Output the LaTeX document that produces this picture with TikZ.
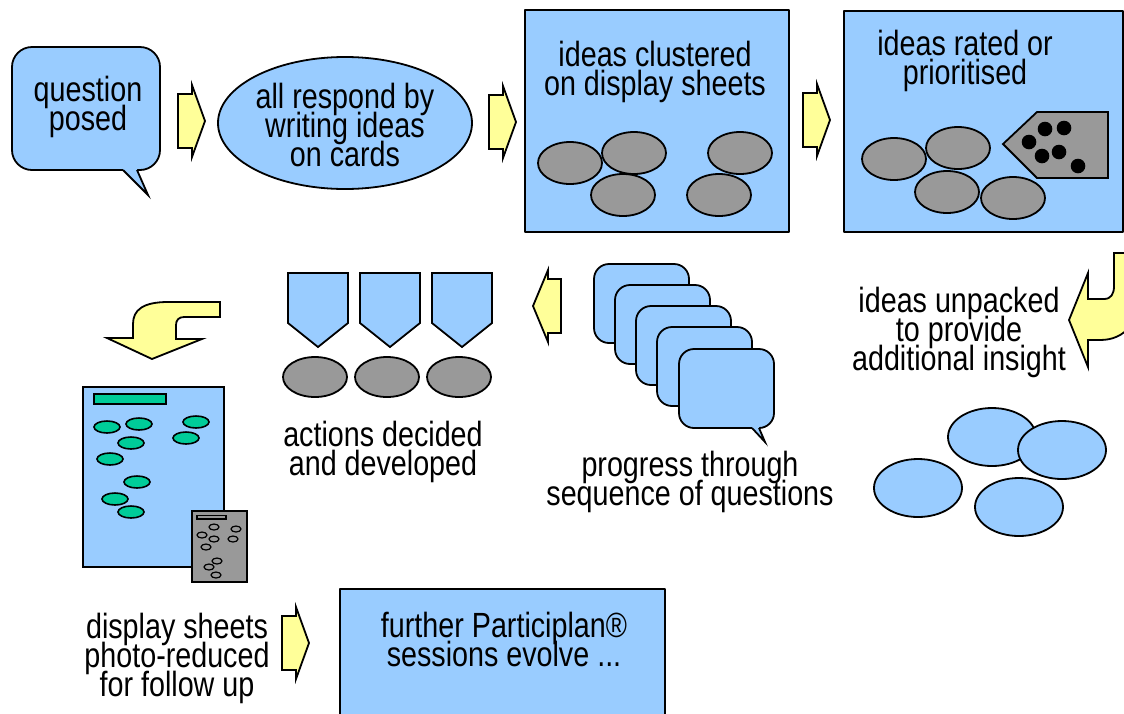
\documentclass[tikz,border=0pt]{standalone}
\usepackage{fontspec}
\setmainfont[FakeStretch=0.82]{Liberation Sans}
\begin{document}
\begin{tikzpicture}[x=1pt,y=-1pt,
  blue/.style={fill=bluec,draw=black,line width=1.8pt,line join=round},
  grey/.style={fill=greyc,draw=black,line width=1.8pt},
  yarrow/.style={fill=yellowc,draw=black,line width=1.8pt,line join=miter},
  green/.style={fill=greenc,draw=black,line width=1.6pt},
  lbl/.style={font={\fontsize{35}{29}\selectfont\lineskiplimit=-100pt\lineskip=0pt},align=center,inner sep=0pt,anchor=north}]
\definecolor{bluec}{HTML}{99CCFF}
\definecolor{greyc}{HTML}{999999}
\definecolor{yellowc}{HTML}{FFFF99}
\definecolor{greenc}{HTML}{00CC99}
\useasboundingbox (0,0) rectangle (1124,713);
\clip (0,0) rectangle (1124,713);
\newcommand\yarrowR[2]{\draw[yarrow] (#1,#2-27) -- (#1+14,#2-27) -- (#1+14,#2-36) -- (#1+27,#2) -- (#1+14,#2+36) -- (#1+14,#2+27) -- (#1,#2+27) -- cycle;}
% --- question posed bubble
\draw[blue,rounded corners=20] (12,47) rectangle (160,170);
\fill[bluec] (123,168.5) -- (137,168.5) -- (137,170) -- (148,195) -- (123,170) -- cycle;
\draw[line width=1.8pt,line join=miter] (123,170) -- (148,195) -- (137,170);
\node[lbl] (q) at (88,76) {question\\posed};
\yarrowR{178}{121}
% --- ellipse
\draw[blue] (345,123) ellipse [x radius=127, y radius=66];
\node[lbl] (resp) at (345,83) {all respond by\\writing ideas\\on cards};
\yarrowR{489}{122}
% --- box 3
\draw[blue] (525,10) rectangle (789,232);
\node[lbl] (clus) at (655,41) {ideas clustered\\on display sheets};
\foreach \cx/\cy in {570/163,634/153,623/195,740/153,719/195}
  \draw[grey] (\cx,\cy) ellipse [x radius=32, y radius=21];
\yarrowR{803}{120}
% --- box 4
\draw[blue] (844,11) rectangle (1123,232);
\node[lbl] (rate) at (965,30) {ideas rated or\\prioritised};
\foreach \cx/\cy in {894/159,958/148,947/192,1013/198}
  \draw[grey] (\cx,\cy) ellipse [x radius=32, y radius=21];
\draw[grey,line join=miter] (1003,144) -- (1037,112) -- (1108,112) -- (1108,178) -- (1037,178) -- cycle;
\foreach \cx/\cy in {1045/129,1064/128,1029/142,1042/156,1059/152,1078/166}
  \fill (\cx,\cy) circle (7.3);
% --- curved arrow right
\draw[yarrow] (1069,320) -- (1088,273) -- (1088,299) -- (1104,299) .. controls (1111,299) and (1114,294) .. (1114,286) -- (1114,253) -- (1140,253) -- (1140,290) .. controls (1140,322) and (1125,340) .. (1100,340) -- (1088,340) -- (1088,367) -- cycle;
\node[lbl] (unp) at (959,287) {ideas unpacked\\to provide\\additional insight};
\foreach \cx/\cy in {992/437,1062/450,918/488,1019/507}
  \draw[blue] (\cx,\cy) ellipse [x radius=44, y radius=29];
% --- stacked bubbles
\foreach \i in {0,...,3}
  \draw[blue,rounded corners=15] (594+21*\i,264+21*\i) rectangle (689+21*\i,343+21*\i);
\draw[blue,rounded corners=15] (679,349) rectangle (774,428);
\fill[bluec] (752,426.5) -- (759,426.5) -- (759,428) -- (765,442) -- (752,428) -- cycle;
\draw[line width=1.8pt,line join=miter] (752,428) -- (765,442) -- (759,428);
\node[lbl] (prog) at (690,451) {progress through\\sequence of questions};
% --- left arrow
\draw[yarrow] (533,306) -- (548,270) -- (548,279) -- (561,279) -- (561,333) -- (548,333) -- (548,342) -- cycle;
% --- shields and ovals
\foreach \x/\cx in {288/315,360/387,432/459}{
  \draw[blue,line join=miter] (\x,273) -- (\x+60,273) -- (\x+60,323) -- (\x+30,347) -- (\x,323) -- cycle;
  \draw[grey] (\cx,377) ellipse [x radius=32, y radius=20];}
\node[lbl] (act) at (383,421) {actions decided\\and developed};
% --- curved arrow down
\draw[yarrow] (152,359) -- (107,338) -- (133,338) -- (133,324) .. controls (133,310) and (143,302) .. (168,302) -- (220,302) -- (220,317) -- (184,317) .. controls (179,317) and (176,320) .. (176,325) -- (176,339) -- (202,339) -- cycle;
% --- display sheet
\draw[blue,line join=miter] (83,387) rectangle (224,567);
\draw[green] (94,394) rectangle (166,404);
\foreach \cx/\cy in {107/427,139/424,131/443,110/459,196/422,186/438,137/482,115/499,131/512}
  \draw[green] (\cx,\cy) ellipse [x radius=13, y radius=6];
\draw[grey] (192,511) rectangle (247,582);
\draw[grey,line width=1.2pt] (197,515.5) rectangle (226,519);
\foreach \cx/\cy in {214/527,236/529,202/535,214/539,233/539,206/547,217/561,209/567,216/575}
  \draw[grey,line width=1.2pt] (\cx,\cy) ellipse [x radius=5, y radius=3];
\node[lbl] (disp) at (177,613) {display sheets\\photo-reduced\\for follow up};
\yarrowR{282}{643}
% --- further sessions box
\draw[blue] (340,589) rectangle (665,720);
\node[lbl] (fur) at (504,612) {further Participlan®\\sessions evolve ...};
\end{tikzpicture}
\end{document}
